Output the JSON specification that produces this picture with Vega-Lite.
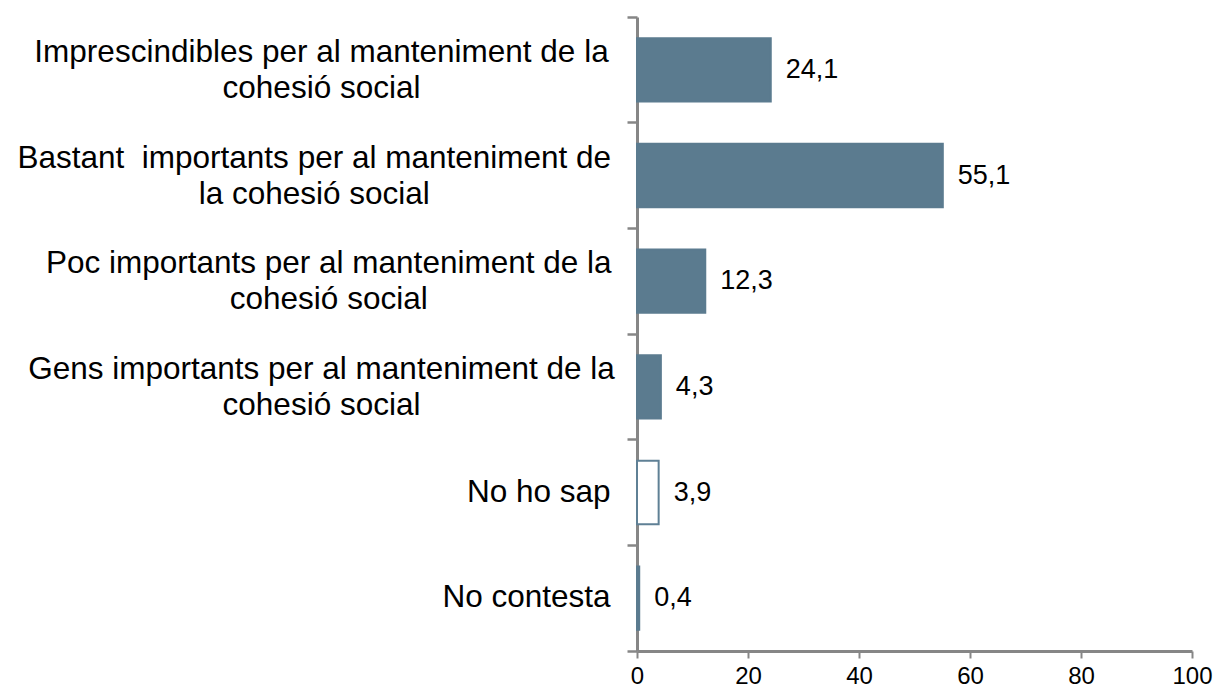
{
  "$schema": "https://vega.github.io/schema/vega-lite/v6.json",
  "width": 555,
  "height": 634,
  "autosize": "none",
  "padding": {"left": 637, "top": 17, "right": 25, "bottom": 36},
  "background": "white",
  "config": {
    "view": {"stroke": null},
    "font": "Liberation Sans",
    "locale": {"number": {"decimal": ",", "thousands": ".", "grouping": [3], "currency": ["", " €"]}}
  },
  "data": {
    "values": [
      {"cat": "Imprescindibles per al manteniment de la|cohesió social", "value": 24.1, "type": "main"},
      {"cat": "Bastant\u00a0 importants per al manteniment de|la cohesió social", "value": 55.1, "type": "main"},
      {"cat": "Poc importants per al manteniment de la|cohesió social", "value": 12.3, "type": "main"},
      {"cat": "Gens importants per al manteniment de la|cohesió social", "value": 4.3, "type": "main"},
      {"cat": "No ho sap", "value": 3.9, "type": "nosap"},
      {"cat": "No contesta", "value": 0.4, "type": "main"}
    ]
  },
  "encoding": {
    "y": {
      "field": "cat",
      "type": "nominal",
      "sort": null,
      "scale": {"paddingInner": 0, "paddingOuter": 0},
      "axis": {
        "title": null,
        "bandPosition": 1,
        "tickExtra": true,
        "tickSize": 10,
        "tickWidth": 2.5,
        "tickColor": "#868686",
        "domainColor": "#868686",
        "domainWidth": 3,
        "labelFontSize": 31.5,
        "labelColor": "#000000",
        "labelPadding": {"expr": "17 + (isString(datum.value) && indexof(datum.value, '|') >= 0 ? 0.5 * 14.45 * length(split(datum.value, '|')[0]) : 0)"},
        "labelOffset": {"expr": "isString(datum.value) && indexof(datum.value, '|') >= 0 ? -17 : 0"},
        "labelLimit": 0,
        "labelLineHeight": 36,
        "labelAlign": {"condition": {"test": "isString(datum.value) && indexof(datum.value, '|') >= 0", "value": "center"}, "value": "right"},
        "labelExpr": "isString(datum.value) ? split(datum.value, '|') : ''"
      }
    }
  },
  "layer": [
    {
      "mark": {"type": "bar", "height": {"band": 0.6}, "strokeWidth": 2},
      "encoding": {
        "x": {
          "field": "value",
          "type": "quantitative",
          "scale": {"domain": [0, 100], "nice": false},
          "axis": {
            "title": null,
            "values": [0, 20, 40, 60, 80, 100],
            "grid": false,
            "tickSize": 7,
            "tickWidth": 2,
            "tickColor": "#868686",
            "domainColor": "#868686",
            "domainWidth": 3,
            "labelFontSize": 24,
            "labelColor": "#000000",
            "labelPadding": 6,
            "labelFlush": false,
            "format": "d"
          }
        },
        "color": {
          "field": "type",
          "type": "nominal",
          "scale": {"domain": ["main", "nosap"], "range": ["#5b7b8f", "#ffffff"]},
          "legend": null
        },
        "stroke": {
          "field": "type",
          "type": "nominal",
          "scale": {"domain": ["main", "nosap"], "range": ["#5b7b8f", "#5f8095"]},
          "legend": null
        }
      }
    },
    {
      "mark": {"type": "text", "align": "left", "baseline": "middle", "dx": 15, "fontSize": 27, "color": "#000000"},
      "encoding": {
        "x": {"field": "value", "type": "quantitative"},
        "text": {"field": "value", "type": "quantitative", "format": ".1f"}
      }
    }
  ]
}
